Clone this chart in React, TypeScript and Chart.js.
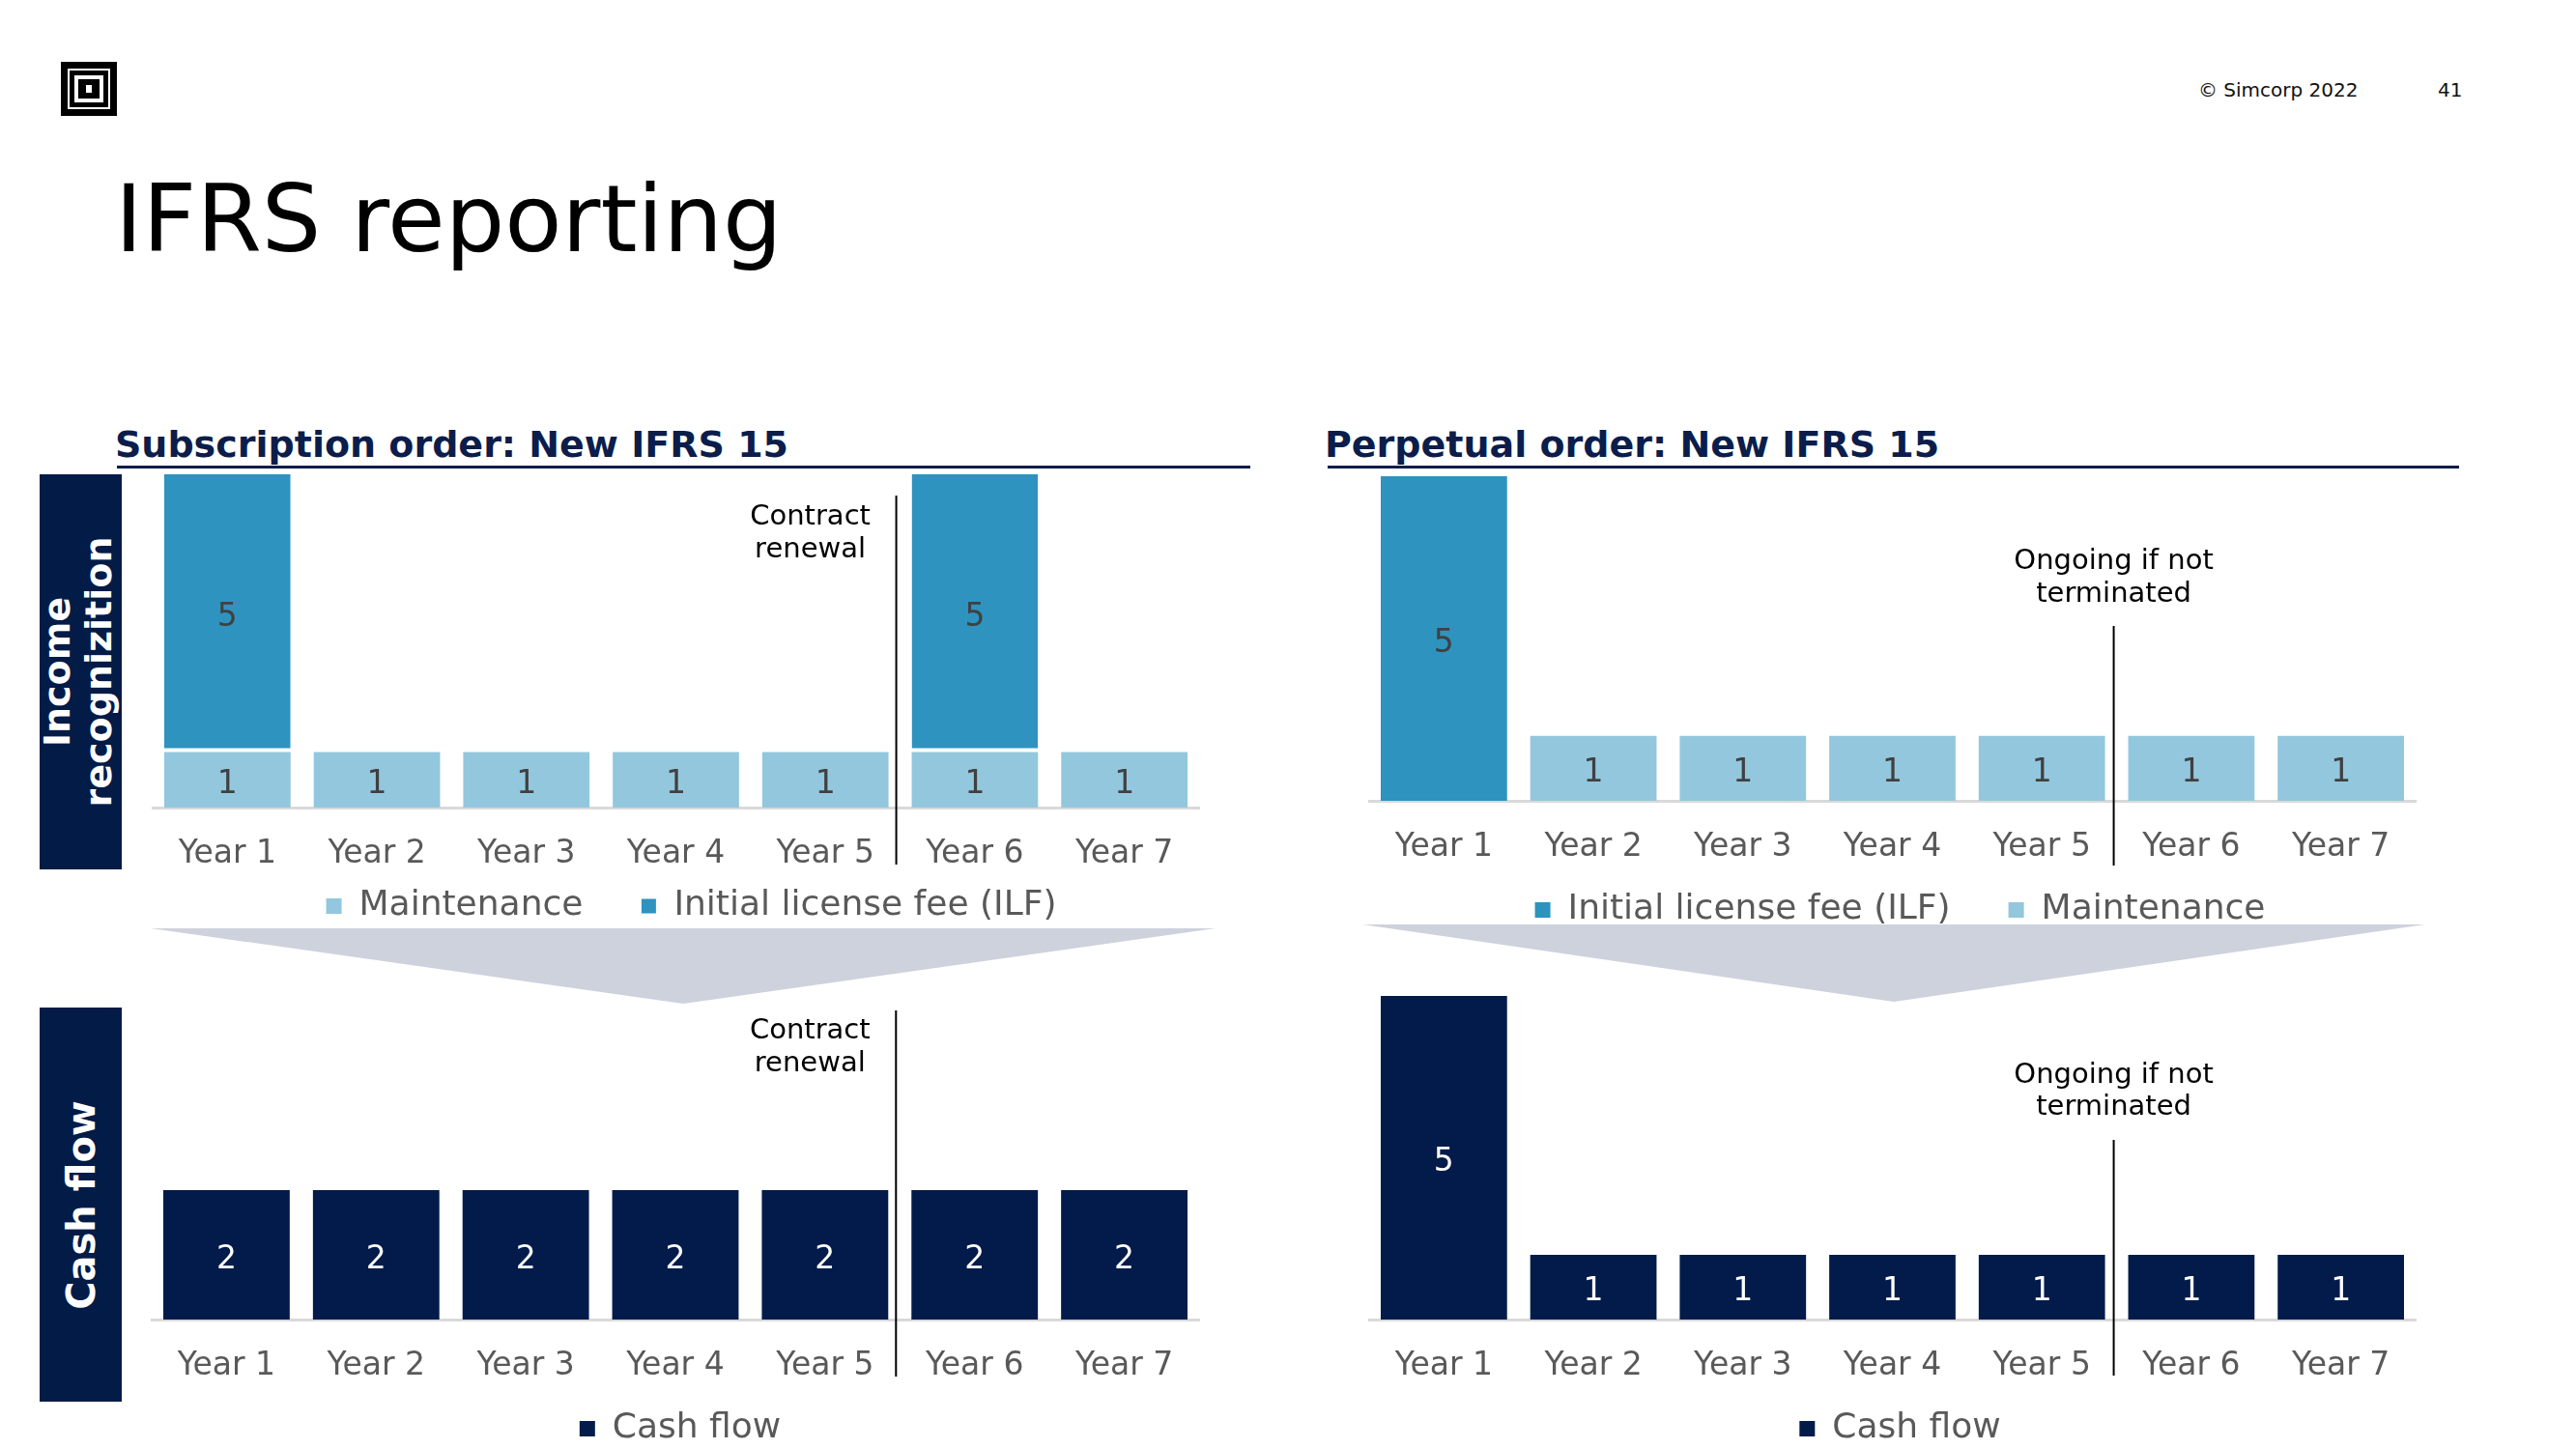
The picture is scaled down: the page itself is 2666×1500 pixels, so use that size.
import React, { useEffect, useRef } from "react";
import { Chart, registerables } from "chart.js";

Chart.register(...registerables);

// ---------------- data ----------------
const years = ["Year 1", "Year 2", "Year 3", "Year 4", "Year 5", "Year 6", "Year 7"];

const subMaintenance = [1, 1, 1, 1, 1, 1, 1];
const subILF = [5, null, null, null, null, 5, null];
const subCashFlow = [2, 2, 2, 2, 2, 2, 2];

const perpILF = [5, null, null, null, null, null, null];
const perpMaintenance = [null, 1, 1, 1, 1, 1, 1];
const perpCashFlow = [5, 1, 1, 1, 1, 1, 1];

const subIncomeMax = 6;
const perpIncomeMax = 5;
const cashMax = 5;

const seriesNames = {
  maintenance: "Maintenance",
  ilf: "Initial license fee (ILF)",
  cash: "Cash flow",
};

// ---------------- style ----------------
const FONT = '"DejaVu Sans", sans-serif';
const BLUE = "#2E93BF";
const LIGHT = "#93C7DD";
const NAVY = "#021B4A";
const HEAD = "#0B1D4B";
const GRAY_TXT = "#595959";

const valueLabels = {
  id: "valueLabels",
  afterDatasetsDraw(chart: any, _args: any, opts: any) {
    const ctx = chart.ctx;
    ctx.save();
    ctx.font = `33px ${FONT}`;
    ctx.fillStyle = opts.color;
    ctx.textAlign = "center";
    ctx.textBaseline = "middle";
    chart.data.datasets.forEach((ds: any, i: number) => {
      const meta = chart.getDatasetMeta(i);
      meta.data.forEach((el: any, j: number) => {
        const v = ds.data[j];
        if (v == null || v === 0) return;
        ctx.fillText(String(v), el.x, (el.y + el.base) / 2 + 5);
      });
    });
    ctx.restore();
  },
};

const renewalMarker = {
  id: "renewalMarker",
  afterDraw(chart: any, _args: any, o: any) {
    const ctx = chart.ctx;
    const xs = chart.scales.x;
    const idx = o.afterIndex;
    const lx = (xs.getPixelForValue(idx) + xs.getPixelForValue(idx + 1)) / 2 + o.lineDx;
    const { top, bottom } = chart.chartArea;
    ctx.save();
    ctx.strokeStyle = "#000";
    ctx.lineWidth = 2;
    ctx.beginPath();
    ctx.moveTo(lx, top + o.lineTop);
    ctx.lineTo(lx, bottom + o.lineBottom);
    ctx.stroke();
    ctx.font = `29px ${FONT}`;
    ctx.fillStyle = "#000";
    ctx.textAlign = "center";
    ctx.textBaseline = "middle";
    String(o.text)
      .split("\n")
      .forEach((t: string, k: number) => {
        ctx.fillText(t, lx + o.textDx, top + o.textTop + k * o.lineGap);
      });
    ctx.restore();
  },
};

// moves the legend box after layout so that it sits where the slide has it
const legendShift = {
  id: "legendShift",
  afterLayout(chart: any, _args: any, o: any) {
    const lg = chart.legend;
    if (!lg || !o) return;
    lg.top += o.dy || 0;
    lg.bottom += o.dy || 0;
    lg.left += o.dx || 0;
    lg.right += o.dx || 0;
  },
};

type PanelProps = {
  left: number;
  top: number;
  width: number;
  height: number;
  padding: { left: number; right: number; top: number; bottom: number };
  datasets: any[];
  yMax: number;
  legendDy: number;
  legendDx: number;
  labelColor: string;
  marker: any;
};

function BarPanel(p: PanelProps) {
  const ref = useRef<HTMLCanvasElement>(null);
  useEffect(() => {
    const chart = new Chart(ref.current as HTMLCanvasElement, {
      type: "bar",
      data: { labels: years, datasets: p.datasets },
      options: {
        animation: false,
        responsive: false,
        maintainAspectRatio: false,
        layout: { padding: p.padding },
        datasets: { bar: { barPercentage: 0.845, categoryPercentage: 1 } },
        scales: {
          x: {
            stacked: true,
            grid: { display: false, drawTicks: false, tickLength: 0 },
            border: { display: true, color: "#D9D9D9", width: 3 },
            ticks: {
              color: GRAY_TXT,
              font: { family: FONT, size: 33 },
              padding: 29,
              maxRotation: 0,
              autoSkip: false,
            },
            afterFit: (s: any) => {
              s.height = 74;
            },
          },
          y: { stacked: true, display: false, min: 0, max: p.yMax },
        },
        plugins: {
          legend: {
            position: "bottom",
            labels: {
              boxWidth: 16,
              boxHeight: 16,
              padding: 60,
              color: GRAY_TXT,
              font: { family: FONT, size: 36 },
            },
          },
          tooltip: { enabled: false },
          valueLabels: { color: p.labelColor },
          renewalMarker: p.marker,
          legendShift: { dy: p.legendDy, dx: p.legendDx },
        } as any,
      },
      plugins: [valueLabels, renewalMarker, legendShift],
    } as any);
    return () => chart.destroy();
  }, []);
  return (
    <canvas
      ref={ref}
      width={p.width}
      height={p.height}
      style={{ position: "absolute", left: p.left, top: p.top, width: p.width, height: p.height }}
    />
  );
}

const abs = (l: number, t: number, w: number, h: number, extra: any = {}) => ({
  position: "absolute" as const,
  left: l,
  top: t,
  width: w,
  height: h,
  ...extra,
});

export default function App() {
  const ilfBorder = { top: 0, right: 0, bottom: 4, left: 0 };
  return (
    <div
      style={{
        position: "fixed",
        left: 0,
        top: 0,
        width: 2666,
        height: 1500,
        overflow: "hidden",
        background: "#fff",
        fontFamily: FONT,
      }}
    >
      {/* logo */}
      <div style={abs(63, 64, 58, 56, { background: "#000" })} />
      <div style={abs(70, 71, 44, 42, { border: "2px solid #fff", boxSizing: "border-box" })} />
      <div style={abs(77, 78, 30, 28, { background: "#fff" })} />
      <div style={abs(81, 82, 22, 20, { background: "#000" })} />
      <div style={abs(89, 88, 6, 8, { background: "#fff" })} />

      {/* header */}
      <div style={abs(2275, 83, 200, 20, { fontSize: 20, lineHeight: "20px", color: "#111", whiteSpace: "nowrap" })}>
        © Simcorp 2022
      </div>
      <div style={abs(2523, 83, 40, 20, { fontSize: 20, lineHeight: "20px", color: "#111" })}>41</div>

      {/* title */}
      <div style={abs(119, 178, 900, 97, { fontSize: 97, lineHeight: "97px", color: "#000", whiteSpace: "nowrap" })}>
        IFRS reporting
      </div>

      {/* section headings */}
      <div style={abs(119, 441, 1000, 38, { fontSize: 38, lineHeight: "38px", fontWeight: 700, color: HEAD, whiteSpace: "nowrap" })}>
        Subscription order: New IFRS 15
      </div>
      <div style={abs(121, 482, 1173, 3, { background: HEAD })} />
      <div style={abs(1371, 441, 1000, 38, { fontSize: 38, lineHeight: "38px", fontWeight: 700, color: HEAD, whiteSpace: "nowrap" })}>
        Perpetual order: New IFRS 15
      </div>
      <div style={abs(1374, 482, 1171, 3, { background: HEAD })} />

      {/* side boxes */}
      <div style={abs(41, 491, 85, 409, { background: "#031B47" })} />
      <div
        style={abs(41 + 42.5 - 204.5, 491 + 204.5 - 42.5, 409, 85, {
          transform: "rotate(-90deg)",
          color: "#fff",
          fontWeight: 700,
          fontSize: 38,
          lineHeight: "43px",
          textAlign: "center",
          display: "flex",
          flexDirection: "column",
          justifyContent: "center",
          paddingBottom: 6,
          boxSizing: "border-box",
        })}
      >
        <div>Income</div>
        <div>recognizition</div>
      </div>
      <div style={abs(41, 1043, 85, 408, { background: "#031B47" })} />
      <div
        style={abs(41 + 42.5 - 204, 1043 + 204 - 42.5, 408, 85, {
          transform: "rotate(-90deg)",
          color: "#fff",
          fontWeight: 700,
          fontSize: 40,
          lineHeight: "43px",
          textAlign: "center",
          display: "flex",
          flexDirection: "column",
          justifyContent: "center",
        })}
      >
        <div>Cash flow</div>
      </div>

      {/* chevrons */}
      <svg style={abs(0, 0, 2666, 1500, { pointerEvents: "none" })} width={2666} height={1500}>
        <polygon points="156,961 1258,961 707,1039" fill="#CDD2DC" />
        <polygon points="1410,957 2510,957 1960,1037" fill="#CDD2DC" />
      </svg>

      {/* charts */}
      <BarPanel
        left={140}
        top={470}
        width={1120}
        height={546}
        padding={{ left: 18, right: 19, top: 21, bottom: 0 }}
        yMax={subIncomeMax}
        legendDy={-50}
        legendDx={16}
        labelColor="#404040"
        datasets={[
          { label: seriesNames.maintenance, data: subMaintenance, backgroundColor: LIGHT },
          {
            label: seriesNames.ilf,
            data: subILF,
            backgroundColor: BLUE,
            borderColor: "#fff",
            borderWidth: ilfBorder,
            borderSkipped: false,
          },
        ]}
        marker={{ afterIndex: 4, lineDx: -4, lineTop: 22, lineBottom: 59, textTop: 44, lineGap: 34, textDx: -89, text: "Contract\nrenewal" }}
      />
      <BarPanel
        left={1400}
        top={470}
        width={1120}
        height={539}
        padding={{ left: 17, right: 20, top: 23, bottom: 0 }}
        yMax={perpIncomeMax}
        legendDy={-39}
        legendDx={8}
        labelColor="#404040"
        datasets={[
          { label: seriesNames.ilf, data: perpILF, backgroundColor: BLUE },
          { label: seriesNames.maintenance, data: perpMaintenance, backgroundColor: LIGHT },
        ]}
        marker={{ afterIndex: 4, lineDx: -3, lineTop: 155, lineBottom: 67, textTop: 88, lineGap: 34, textDx: 0, text: "Ongoing if not\nterminated" }}
      />
      <BarPanel
        left={140}
        top={1010}
        width={1120}
        height={536}
        padding={{ left: 17, right: 19, top: 21, bottom: 0 }}
        yMax={cashMax}
        legendDy={-39}
        legendDx={5}
        labelColor="#FFFFFF"
        datasets={[{ label: seriesNames.cash, data: subCashFlow, backgroundColor: NAVY }]}
        marker={{ afterIndex: 4, lineDx: -4, lineTop: 15, lineBottom: 59, textTop: 36, lineGap: 34, textDx: -89, text: "Contract\nrenewal" }}
      />
      <BarPanel
        left={1400}
        top={1010}
        width={1120}
        height={536}
        padding={{ left: 17, right: 20, top: 21, bottom: 0 }}
        yMax={cashMax}
        legendDy={-39}
        legendDx={8}
        labelColor="#FFFFFF"
        datasets={[{ label: seriesNames.cash, data: perpCashFlow, backgroundColor: NAVY }]}
        marker={{ afterIndex: 4, lineDx: -3, lineTop: 149, lineBottom: 58, textTop: 82, lineGap: 33, textDx: 0, text: "Ongoing if not\nterminated" }}
      />
    </div>
  );
}
